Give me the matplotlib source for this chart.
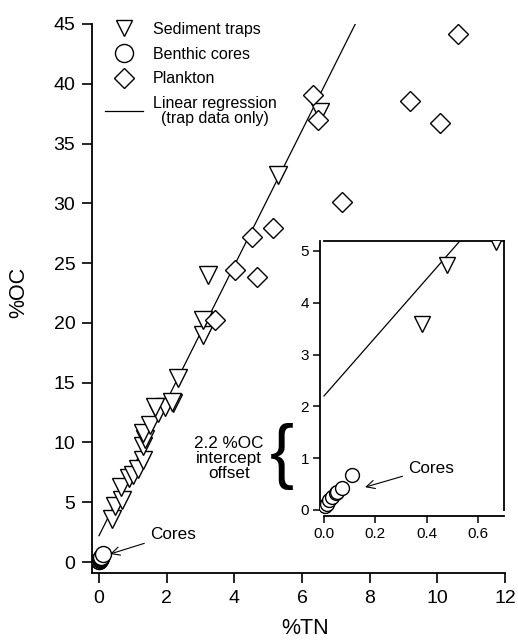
import matplotlib
matplotlib.use("Agg")
import matplotlib.pyplot as plt
from matplotlib.lines import Line2D
import numpy as np

plt.rcParams['font.family'] = ['Liberation Sans', 'DejaVu Sans']

# ---- data ----
trap_tn = [0.38, 0.48, 0.67, 0.65, 0.9, 1.0, 1.15, 1.3, 1.3, 1.35, 1.3, 1.5, 1.75, 1.95, 2.2,
           1.66, 2.15, 2.34, 3.08, 3.08, 3.22, 5.3, 6.54]
trap_oc = [3.58, 4.72, 5.17, 6.3, 7.0, 7.3, 7.8, 8.5, 9.7, 10.3, 10.8, 11.5, 12.5, 13.0, 13.3,
           13.0, 13.4, 15.4, 19.0, 20.2, 24.0, 32.4, 37.6]
core_tn = [0.005, 0.01, 0.02, 0.03, 0.045, 0.05, 0.07, 0.11]
core_oc = [0.07, 0.12, 0.20, 0.25, 0.32, 0.35, 0.42, 0.68]
plank_tn = [3.43, 4.02, 4.67, 4.53, 5.15, 6.33, 6.48, 7.19, 9.2, 10.09, 10.62]
plank_oc = [20.2, 24.4, 23.8, 27.2, 27.9, 39.1, 37.0, 30.1, 38.6, 36.7, 44.2]
reg_intercept = 2.2
reg_slope = 5.65

main_xticks = [0, 2, 4, 6, 8, 10, 12]
main_yticks = [0, 5, 10, 15, 20, 25, 30, 35, 40, 45]
inset_xticks = [0.0, 0.2, 0.4, 0.6]
inset_yticks = [0, 1, 2, 3, 4, 5]

W, H = 518, 640
fig = plt.figure(figsize=(W / 100, H / 100), dpi=100)

def rect(x0, y0, x1, y1):
    return [x0 / W, 1 - y1 / H, (x1 - x0) / W, (y1 - y0) / H]

mk = dict(linestyle='none', markerfacecolor='white', markeredgecolor='black', markeredgewidth=1.0)

# ---- main axes ----
ax = fig.add_axes(rect(92, 24, 505, 573))
ax.set_xlim(-0.207, 12)
ax.set_ylim(-0.92, 45)
for s in ['top', 'right']:
    ax.spines[s].set_visible(False)
for s in ['left', 'bottom']:
    ax.spines[s].set_linewidth(1.3)
ax.set_xticks(main_xticks)
ax.set_yticks(main_yticks)
ax.tick_params(direction='out', length=7, width=1.2, labelsize=14, pad=5)

xr = np.array([0, 8.5])
ax.plot(xr, reg_intercept + reg_slope * xr, color='black', lw=0.9, zorder=2)
ax.plot(trap_tn, trap_oc, marker='v', markersize=13, zorder=3, **mk)
ax.plot(core_tn, core_oc, marker='o', markersize=11.5, zorder=3, **mk)
ax.plot(plank_tn, plank_oc, marker='D', markersize=10.5, zorder=3, **mk)

handles = [
    Line2D([], [], marker='v', markersize=12, **mk),
    Line2D([], [], marker='o', markersize=13, **mk),
    Line2D([], [], marker='D', markersize=10.5, **mk),
    Line2D([], [], color='black', lw=0.9),
]
labels = ['Sediment traps', 'Benthic cores', 'Plankton', 'Linear regression\n(trap data only)']
leg = ax.legend(handles, labels, loc='upper left', bbox_to_anchor=(105 / W, 1 - 22 / H),
                bbox_transform=fig.transFigure, frameon=False, fontsize=11.5,
                handlelength=2.4, handletextpad=0.6, labelspacing=0.6,
                borderpad=0, borderaxespad=0)
leg.get_texts()[3].set_multialignment('center')
leg.get_texts()[3].set_linespacing(1.05)

ax.annotate('Cores', xy=(0.33, 0.67), xytext=(1.5, 2.3), fontsize=12.3,
            va='center', ha='left',
            arrowprops=dict(arrowstyle='->', color='black', lw=0.8,
                            shrinkA=2, shrinkB=0, mutation_scale=15))

fig.text(19 / W, 1 - 292 / H, '%OC', rotation=90, fontsize=15.5, ha='center', va='center')
fig.text(305 / W, 1 - 628 / H, '%TN', fontsize=15.5, ha='center', va='center')

# ---- inset ----
ia = fig.add_axes(rect(320, 241, 504, 516))
ia.set_zorder(5)
ia.set_facecolor('white')
ia.set_xlim(-0.0156, 0.701)
ia.set_ylim(-0.116, 5.19)
for s in ['top', 'right', 'left', 'bottom']:
    ia.spines[s].set_linewidth(1.3)
ia.spines['left'].set_bounds(0, 5.19)
ia.spines['right'].set_bounds(0, 5.19)
ia.spines['bottom'].set_bounds(0, 0.701)
ia.spines['top'].set_bounds(0, 0.701)
ia.set_xticks(inset_xticks)
ia.set_xticklabels([f'{v:.1f}' for v in inset_xticks])
ia.set_yticks(inset_yticks)
ia.tick_params(direction='out', length=5, width=1.1, labelsize=11, pad=3)
xi = np.array([0, 0.7])
ia.plot(xi, reg_intercept + reg_slope * xi, color='black', lw=0.9, zorder=2)
ia.plot(trap_tn, trap_oc, marker='v', markersize=12, zorder=3, **mk)
ia.plot(core_tn, core_oc, marker='o', markersize=10, zorder=3, **mk)
ia.annotate('Cores', xy=(0.16, 0.44), xytext=(0.327, 0.81), fontsize=12.3,
            va='center', ha='left',
            arrowprops=dict(arrowstyle='->', color='black', lw=0.8,
                            shrinkA=2, shrinkB=0, mutation_scale=15))

fig.text(229 / W, 1 - 459 / H, '2.2 %OC\nintercept\noffset', fontsize=12.3,
         ha='center', va='center', multialignment='center', linespacing=1.0)
fig.text(282 / W, 1 - 457 / H, '{', fontsize=52, ha='center', va='center')

fig.savefig('out.png', dpi=100)
